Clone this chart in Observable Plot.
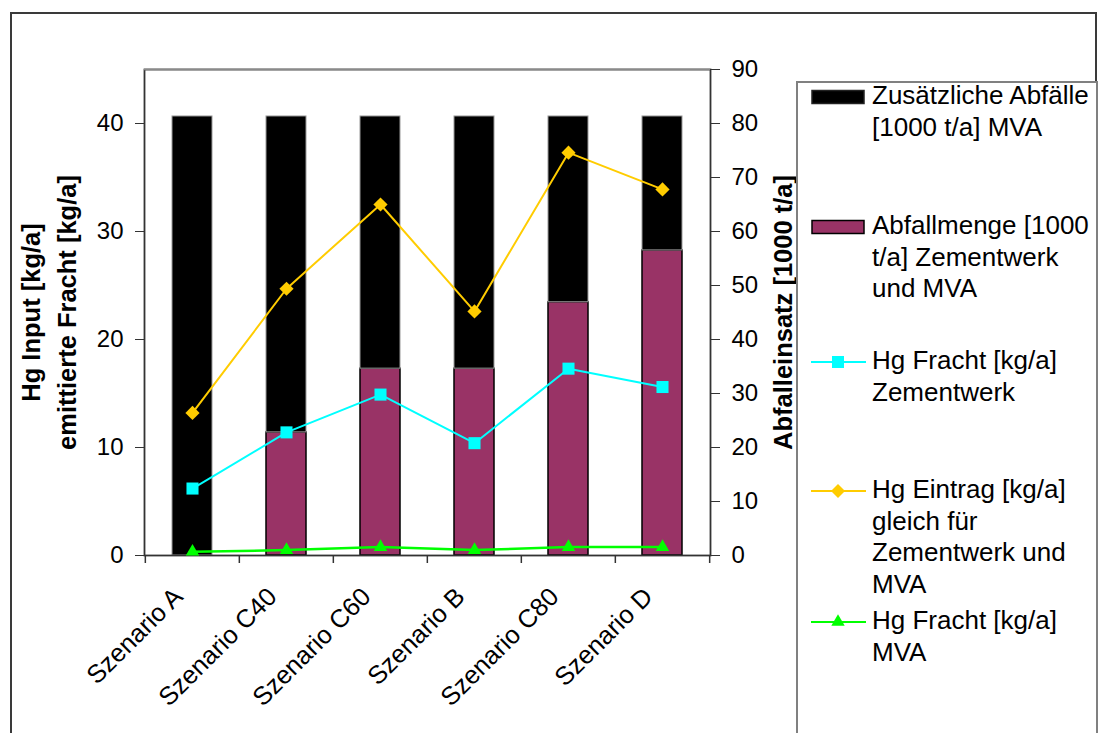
<!DOCTYPE html>
<html><head><meta charset="utf-8">
<script src="https://cdn.jsdelivr.net/npm/d3@7"></script>
<script src="https://cdn.jsdelivr.net/npm/@observablehq/plot@0.6"></script>
<style>
html,body{margin:0;padding:0;background:#fff;overflow:hidden;}
#wrap{position:relative;width:1098px;height:733px;font-family:"Liberation Sans",Arial,sans-serif;}
#chart{position:absolute;left:0;top:0;}
#outer{position:absolute;left:10px;top:12px;width:1087px;height:760px;border:2px solid #3a3a3a;box-sizing:border-box;pointer-events:none;}
#legend{position:absolute;left:796px;top:81px;width:302px;height:700px;border:2px solid #808080;box-sizing:border-box;background:#fff;}
.item{position:absolute;left:13px;display:flex;align-items:flex-start;}
.lab{margin-left:6px;font-size:26px;line-height:31.5px;white-space:pre;color:#000;margin-top:1px;}
</style></head>
<body>
<div id="wrap"><div id="chart"></div><div id="outer"></div><div id="legend"></div></div>
<script>
// ---- data ----
const categories = ["Szenario A", "Szenario C40", "Szenario C60", "Szenario B", "Szenario C80", "Szenario D"];
// right axis, 1000 t/a
const abfallmenge = [0, 22.8, 34.6, 34.6, 46.9, 56.5];
const zusaetzlicheAbfaelle = [81.3, 58.5, 46.7, 46.7, 34.4, 24.8];
// left axis, kg/a
const hgFrachtZementwerk = [6.2, 11.4, 14.9, 10.4, 17.3, 15.6];
const hgEintrag = [13.2, 24.7, 32.5, 22.6, 37.3, 33.9];
const hgFrachtMVA = [0.35, 0.5, 0.78, 0.5, 0.78, 0.78];
const leftTicks = [0, 10, 20, 30, 40];
const rightTicks = [0, 10, 20, 30, 40, 50, 60, 70, 80, 90];
const leftTitle = "Hg Input [kg/a]\nemittierte Fracht [kg/a]";
const rightTitle = "Abfalleinsatz [1000 t/a]";
const legendLabels = [
  "Zusätzliche Abfälle\n[1000 t/a] MVA",
  "Abfallmenge [1000\nt/a] Zementwerk\nund MVA",
  "Hg Fracht [kg/a]\nZementwerk",
  "Hg Eintrag [kg/a]\ngleich für\nZementwerk und\nMVA",
  "Hg Fracht [kg/a]\nMVA"
];
const colZus = "#000000", colAbf = "#993366", colFz = "#00FFFF", colE = "#FFCC00", colFm = "#00FF00";

// ---- layout ----
const W = 1098, H = 733, mL = 144, mR = 388, mT = 69, mB = 178;
const step = (W - mL - mR) / categories.length;
const ratio = 2; // right axis units per left axis unit
const rows = categories.map((c, i) => ({
  c, p: abfallmenge[i], z: zusaetzlicheAbfaelle[i],
  fz: hgFrachtZementwerk[i], e: hgEintrag[i], fm: hgFrachtMVA[i]
}));

const chart = Plot.plot({
  width: W, height: H,
  marginLeft: mL, marginRight: mR, marginTop: mT, marginBottom: mB,
  style: {fontFamily: "Liberation Sans, Arial, sans-serif", fontSize: "24px", color: "#000", background: "transparent"},
  x: {type: "band", domain: categories, padding: 0, axis: null},
  y: {domain: [0, 45], axis: null},
  marks: [
    Plot.barY(rows.filter(d => d.p > 0), {x: "c", y1: 0, y2: d => d.p / ratio, fill: colAbf, stroke: "#000", strokeWidth: 1.5, insetLeft: 27, insetRight: 27}),
    Plot.barY(rows, {x: "c", y1: d => d.p / ratio, y2: d => (d.p + d.z) / ratio, fill: colZus, stroke: "#9a9a9a", strokeWidth: 1, insetLeft: 27, insetRight: 27}),
    Plot.frame({stroke: "#333", strokeWidth: 1.8}),
    Plot.ruleY([45], {stroke: "#8a8a8a", strokeWidth: 1.6}),
    Plot.axisY({anchor: "left", ticks: leftTicks, tickSize: 9, tickPadding: 12, label: null, stroke: "#333", fontSize: 24}),
    Plot.axisY({anchor: "right", ticks: rightTicks.map(v => v / ratio), tickFormat: v => String(Math.round(v * ratio)), tickSize: 9, tickPadding: 12, label: null, stroke: "#333", fontSize: 24}),
    Plot.ruleX(categories, {x: d => d, y1: 0, y2: 0, insetBottom: -8, dx: -step / 2, stroke: "#333", strokeWidth: 1.5}),
    Plot.ruleX(categories.slice(-1), {x: d => d, y1: 0, y2: 0, insetBottom: -8, dx: step / 2, stroke: "#333", strokeWidth: 1.5}),
    Plot.text(categories, {x: d => d, frameAnchor: "bottom", text: d => d, rotate: -45, textAnchor: "end", lineAnchor: "middle", dx: -14, dy: 37, fontSize: 25.5, fill: "#000"}),
    Plot.line(rows, {x: "c", y: "e", stroke: colE, strokeWidth: 2}),
    Plot.dot(rows, {x: "c", y: "e", symbol: "diamond2", r: 6.4, fill: colE, stroke: null}),
    Plot.line(rows, {x: "c", y: "fz", stroke: colFz, strokeWidth: 2}),
    Plot.dot(rows, {x: "c", y: "fz", symbol: "square", r: 6.8, fill: colFz, stroke: null}),
    Plot.line(rows, {x: "c", y: "fm", stroke: colFm, strokeWidth: 2.5}),
    Plot.dot(rows, {x: "c", y: "fm", symbol: "triangle", r: 5, fill: colFm, stroke: null}),
    Plot.text([leftTitle], {frameAnchor: "left", text: d => d, rotate: -90, dx: -98, fontWeight: "bold", fontSize: 25.5, lineHeight: 1.41, textAnchor: "middle", lineAnchor: "middle", fill: "#000"}),
    Plot.text([rightTitle], {frameAnchor: "right", text: d => d, rotate: -90, dx: 73, fontWeight: "bold", fontSize: 25.5, textAnchor: "middle", lineAnchor: "middle", fill: "#000"})
  ]
});
document.getElementById("chart").appendChild(chart);

// ---- legend ----
const legend = d3.select("#legend");
const kinds = [
  {type: "bar", fill: colZus, stroke: "#222"},
  {type: "bar", fill: colAbf, stroke: "#000"},
  {type: "line", color: colFz, symbol: d3.symbolSquare, size: 145},
  {type: "line", color: colE, symbol: d3.symbolDiamond2, size: 125},
  {type: "line", color: colFm, symbol: d3.symbolTriangle, size: 78}
];
const itemTops = [-4, 126, 261, 390, 521];
legendLabels.forEach((lab, i) => {
  const k = kinds[i];
  const it = legend.append("div").attr("class", "item").style("top", itemTops[i] + "px");
  const svg = it.append("svg").attr("width", 55).attr("height", 36);
  if (k.type === "bar") {
    svg.append("rect").attr("x", 1).attr("y", 11.5).attr("width", 52).attr("height", 13)
      .attr("fill", k.fill).attr("stroke", k.stroke).attr("stroke-width", 1.5);
  } else {
    svg.append("line").attr("x1", 0).attr("x2", 55).attr("y1", 18).attr("y2", 18)
      .attr("stroke", k.color).attr("stroke-width", 2);
    svg.append("path").attr("d", d3.symbol(k.symbol, k.size)()).attr("transform", "translate(27,18)").attr("fill", k.color);
  }
  it.append("div").attr("class", "lab").text(lab);
});
</script>
</body></html>
